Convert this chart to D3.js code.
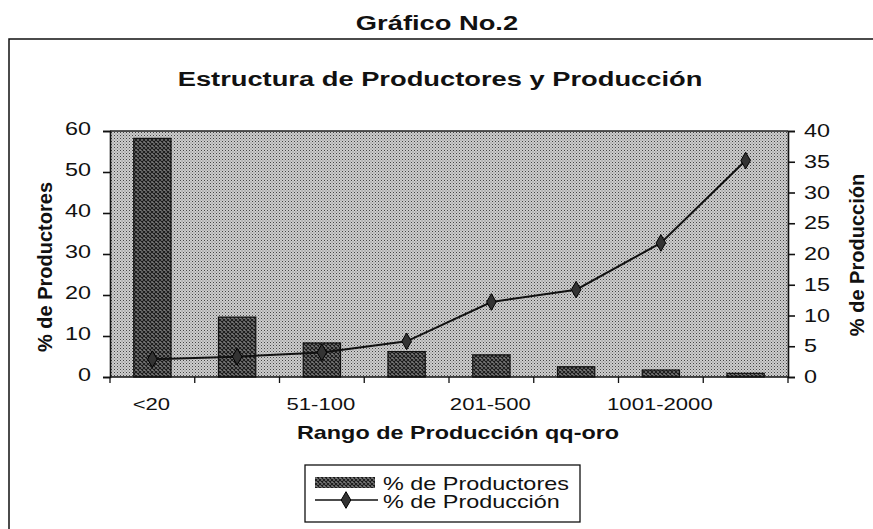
<!DOCTYPE html>
<html>
<head>
<meta charset="utf-8">
<script src="https://cdn.jsdelivr.net/npm/d3@7"></script>
<style>
  body { margin: 0; background: #fff; }
  text { font-family: "Liberation Sans", Arial, sans-serif; fill: #111; }
</style>
</head>
<body>
<script>
// chart data
var categories = ['<20', '21-50', '51-100', '101-200', '201-500', '501-1000', '1001-2000', '>2000'];
var pctProductores = [58.2, 14.6, 8.3, 6.2, 5.4, 2.5, 1.7, 0.9];
var pctProduccion = [2.9, 3.3, 4.0, 5.8, 12.2, 14.2, 21.8, 35.2];
var shownLabels = ['<20', '51-100', '201-500', '1001-2000'];
var leftTicks = [0, 10, 20, 30, 40, 50, 60];
var rightTicks = [0, 5, 10, 15, 20, 25, 30, 35, 40];

var width = 873,
    height = 529;

// the scanned original is stretched sideways, so horizontal text gets a scale
var sx = 1.3;
function at(x, y) {
  return 'translate(' + x + ',' + y + ') scale(' + sx + ',1)';
}

var svg = d3.select('body')
  .append('svg')
  .attr('width', width)
  .attr('height', height);

// patterns to imitate the photocopied fills
var defs = svg.append('defs');
var bgPat = defs.append('pattern')
  .attr('id', 'bgdots')
  .attr('width', 3).attr('height', 3)
  .attr('patternUnits', 'userSpaceOnUse');
bgPat.append('rect').attr('width', 3).attr('height', 3).attr('fill', '#cdcdcd');
bgPat.append('rect').attr('x', 0).attr('y', 0).attr('width', 1).attr('height', 1).attr('fill', '#444');
bgPat.append('rect').attr('x', 1.5).attr('y', 1.5).attr('width', 1).attr('height', 1).attr('fill', '#777');

var barPat = defs.append('pattern')
  .attr('id', 'barhatch')
  .attr('width', 4).attr('height', 4)
  .attr('patternUnits', 'userSpaceOnUse');
barPat.append('rect').attr('width', 4).attr('height', 4).attr('fill', '#7a7a7a');
barPat.append('path').attr('d', 'M0,0L4,4M4,0L0,4').attr('stroke', '#1a1a1a').attr('stroke-width', 1.1);

// outer frame
svg.append('path')
  .attr('d', 'M9,529V39H873')
  .attr('fill', 'none')
  .attr('stroke', '#111')
  .attr('stroke-width', 1.5);

svg.append('text')
  .attr('transform', at(437, 30))
  .attr('text-anchor', 'middle')
  .style('font-size', '21px').style('font-weight', 'bold')
  .text('Gráfico No.2');

svg.append('text')
  .attr('transform', at(440, 86))
  .attr('text-anchor', 'middle')
  .style('font-size', '21px').style('font-weight', 'bold')
  .text('Estructura de Productores y Producción');

var plot = { left: 110, right: 788, top: 131, bottom: 377 };

var x = d3.scaleBand()
  .domain(categories)
  .range([plot.left, plot.right])
  .paddingInner(0.56)
  .paddingOuter(0.28);

var yL = d3.scaleLinear().domain([0, 60]).range([plot.bottom, plot.top]);
var yR = d3.scaleLinear().domain([0, 40]).range([plot.bottom, plot.top]);

svg.append('rect')
  .attr('x', plot.left).attr('y', plot.top)
  .attr('width', plot.right - plot.left)
  .attr('height', plot.bottom - plot.top)
  .attr('fill', 'url(#bgdots)');

// bars
svg.selectAll('.bar')
  .data(pctProductores)
  .enter()
  .append('rect')
  .attr('class', 'bar')
  .attr('x', function(d, i) { return x(categories[i]); })
  .attr('y', function(d) { return yL(d); })
  .attr('width', x.bandwidth())
  .attr('height', function(d) { return yL(0) - yL(d); })
  .attr('fill', 'url(#barhatch)')
  .attr('stroke', '#111')
  .attr('stroke-width', 1.2);

// plot top border
svg.append('line')
  .attr('x1', plot.left).attr('x2', plot.right)
  .attr('y1', plot.top).attr('y2', plot.top)
  .attr('stroke', '#222').attr('stroke-width', 1.5);

// line series
var cx = function(i) { return x(categories[i]) + x.bandwidth() / 2; };
var line = d3.line()
  .x(function(d, i) { return cx(i); })
  .y(function(d) { return yR(d); });

svg.append('path')
  .datum(pctProduccion)
  .attr('d', line)
  .attr('fill', 'none')
  .attr('stroke', '#111')
  .attr('stroke-width', 2);

var diamond = d3.symbol().type(d3.symbolDiamond).size(80);
svg.selectAll('.pt')
  .data(pctProduccion)
  .enter()
  .append('path')
  .attr('class', 'pt')
  .attr('d', diamond)
  .attr('transform', function(d, i) { return 'translate(' + cx(i) + ',' + yR(d) + ')'; })
  .attr('fill', '#333')
  .attr('stroke', '#000');

// axes (labels drawn by hand so they can be stretched like the scan)
var leftAxis = d3.axisLeft(yL).tickValues(leftTicks).tickSize(7).tickFormat('');
var rightAxis = d3.axisRight(yR).tickValues(rightTicks).tickSize(7).tickFormat('');

var gL = svg.append('g').attr('transform', 'translate(' + plot.left + ',0)').call(leftAxis);
var gR = svg.append('g').attr('transform', 'translate(' + plot.right + ',0)').call(rightAxis);
[gL, gR].forEach(function(g) {
  g.selectAll('path, line').attr('stroke', '#111').attr('stroke-width', 1.6);
});

svg.selectAll('.ltick')
  .data(leftTicks)
  .enter()
  .append('text')
  .attr('transform', function(d) { return at(91, yL(d) + 4); })
  .attr('text-anchor', 'end')
  .style('font-size', '18px')
  .text(function(d) { return d; });

svg.selectAll('.rtick')
  .data(rightTicks)
  .enter()
  .append('text')
  .attr('transform', function(d) { return at(804, yR(d) + 6); })
  .style('font-size', '18px')
  .text(function(d) { return d; });

// x axis: baseline with ticks between categories
var bounds = d3.range(categories.length + 1).map(function(i) { return plot.left + i * (plot.right - plot.left) / categories.length; });
svg.append('line')
  .attr('x1', plot.left).attr('x2', plot.right)
  .attr('y1', plot.bottom).attr('y2', plot.bottom)
  .attr('stroke', '#111').attr('stroke-width', 1.6);
svg.selectAll('.xtick')
  .data(bounds)
  .enter()
  .append('line')
  .attr('x1', function(d) { return d; }).attr('x2', function(d) { return d; })
  .attr('y1', plot.bottom).attr('y2', plot.bottom + 6)
  .attr('stroke', '#111').attr('stroke-width', 1.3);

svg.selectAll('.xlab')
  .data(shownLabels)
  .enter()
  .append('text')
  .attr('transform', function(d) { return at(cx(categories.indexOf(d)) - 1, 410); })
  .attr('text-anchor', 'middle')
  .style('font-size', '17px')
  .text(function(d) { return d; });

svg.append('text')
  .attr('transform', at(458, 439))
  .attr('text-anchor', 'middle')
  .style('font-size', '18px').style('font-weight', 'bold')
  .text('Rango de Producción qq-oro');

svg.append('text')
  .attr('transform', 'translate(52,267) rotate(-90)')
  .attr('text-anchor', 'middle')
  .style('font-size', '20px').style('font-weight', 'bold')
  .text('% de Productores');

svg.append('text')
  .attr('transform', 'translate(864,255) rotate(-90)')
  .attr('text-anchor', 'middle')
  .style('font-size', '20px').style('font-weight', 'bold')
  .text('% de Producción');

// legend
var lg = svg.append('g');
lg.append('rect')
  .attr('x', 305).attr('y', 465)
  .attr('width', 275).attr('height', 57)
  .attr('fill', '#fff').attr('stroke', '#111').attr('stroke-width', 1.3);
lg.append('rect')
  .attr('x', 315).attr('y', 477)
  .attr('width', 60).attr('height', 11)
  .attr('fill', 'url(#barhatch)');
lg.append('text')
  .attr('transform', at(383, 490))
  .style('font-size', '18px')
  .text('% de Productores');
lg.append('line')
  .attr('x1', 315).attr('x2', 378)
  .attr('y1', 500).attr('y2', 500)
  .attr('stroke', '#111').attr('stroke-width', 1.6);
lg.append('path')
  .attr('d', diamond)
  .attr('transform', 'translate(346,500)')
  .attr('fill', '#333').attr('stroke', '#000');
lg.append('text')
  .attr('transform', at(383, 508))
  .style('font-size', '18px')
  .text('% de Producción');
</script>
</body>
</html>
